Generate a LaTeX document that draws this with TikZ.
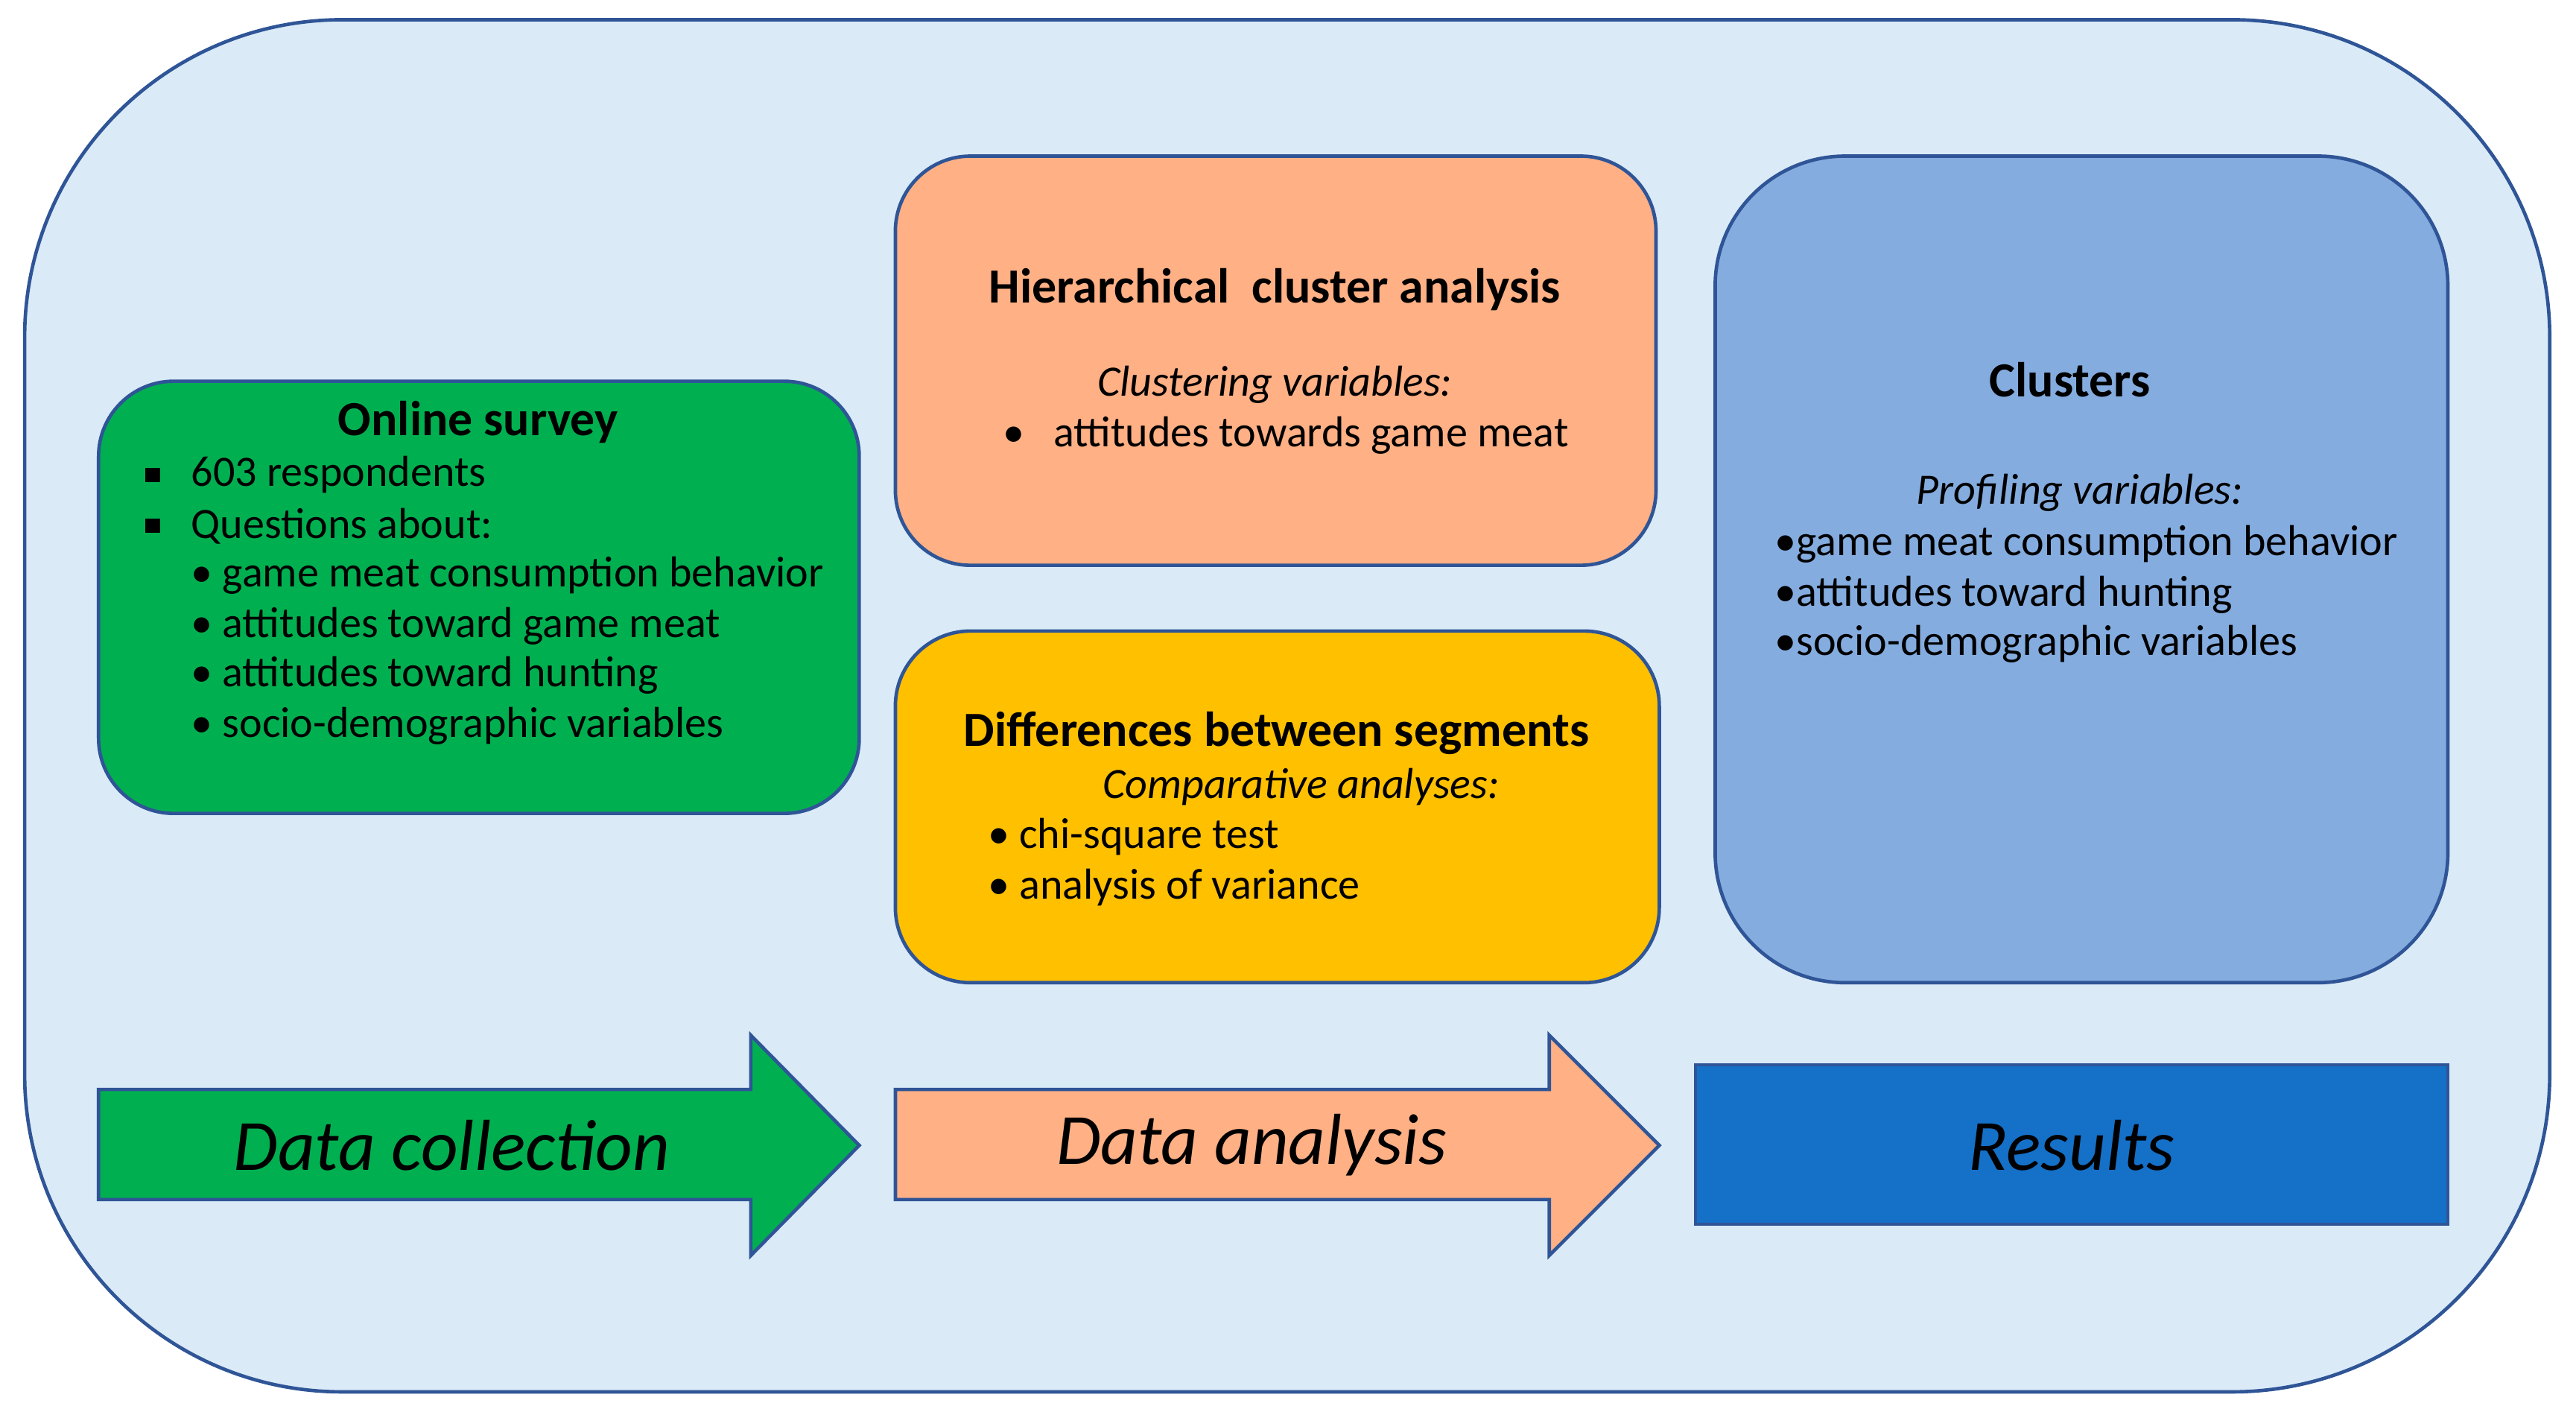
\documentclass[tikz,border=0pt]{standalone}
\usepackage{fontspec}
\setmainfont{Carlito}
\begin{document}
\begin{tikzpicture}[x=0.02cm,y=-0.02cm,
 box/.style={draw=#1,line width=1.2pt},
 t/.style={anchor=west,inner sep=0pt,font=\fontsize{15}{18}\selectfont},
 h/.style={inner sep=0pt,font=\fontsize{17}{20}\selectfont\bfseries},
 big/.style={inner sep=0pt,font=\fontsize{25}{30}\selectfont\itshape},
 sq/.style={fill=black,minimum size=5pt,inner sep=0pt}]
\useasboundingbox (0,0) rectangle (1568,861);
\definecolor{bg}{HTML}{DAEAF7}\definecolor{edge}{HTML}{2F5597}
\definecolor{grn}{HTML}{00B050}\definecolor{org}{HTML}{FFB085}
\definecolor{yel}{HTML}{FFC000}\definecolor{lbl}{HTML}{84ACDF}
\definecolor{dbl}{HTML}{1570C8}
\path[box=edge,fill=bg,rounded corners=110pt] (15,12) rectangle (1552,847);
\path[box=edge,fill=grn,rounded corners=26pt] (60,232) rectangle (523,495);
\path[box=edge,fill=org,rounded corners=26pt] (545,95) rectangle (1008,344);
\path[box=edge,fill=yel,rounded corners=26pt] (545,384) rectangle (1010,598);
\path[box=edge,fill=lbl,rounded corners=45pt] (1044,95) rectangle (1490,598);
% arrows
\path[box=edge,fill=grn] (60,663) -- (457,663) -- (457,630) -- (523,697) -- (457,764) -- (457,730) -- (60,730) -- cycle;
\path[box=edge,fill=org] (545,663) -- (943,663) -- (943,630) -- (1010,697) -- (943,764) -- (943,730) -- (545,730) -- cycle;
\path[box=edge,fill=dbl] (1032,648) rectangle (1490,745);
\node[big] (dc) at (275,697) {Data collection};
\node[big] (da) at (762,697) {Data analysis};
\node[big] (rs) at (1261,697) {Results};
% online survey
\node[h] (os) at (291,257) {Online survey};
\node[sq] (s1) at (93,289) {};
\node[t] at (116,289) {603 respondents};
\node[sq] (s2) at (93,320) {};
\node[t] at (116,320) {Questions about:};
\node[t] at (116,350) {• game meat consumption behavior};
\node[t] at (116,381) {• attitudes toward game meat};
\node[t] at (116,411) {• attitudes toward hunting};
\node[t] at (116,442) {• socio-demographic variables};
% hierarchical
\node[h] (hc) at (776,176) {Hierarchical\ \ cluster analysis};
\node[inner sep=0pt,font=\fontsize{15}{18}\selectfont\itshape] at (776,234) {Clustering variables:};
\node[t] at (610,265) {•\ \ \ attitudes towards game meat};
% differences
\node[h] (db) at (777,446) {Differences between segments};
\node[inner sep=0pt,font=\fontsize{15}{18}\selectfont\itshape] at (792,479) {Comparative analyses:};
\node[t] at (601,509) {• chi-square test};
\node[t] at (601,540) {• analysis of variance};
% clusters
\node[h] (cl) at (1260,231) {Clusters};
\node[inner sep=0pt,font=\fontsize{15}{18}\selectfont\itshape] at (1266,300) {Profiling variables:};
\node[t] at (1080,331) {•game meat consumption behavior};
\node[t] at (1080,362) {•attitudes toward hunting};
\node[t] at (1080,392) {•socio-demographic variables};
\end{tikzpicture}
\end{document}
